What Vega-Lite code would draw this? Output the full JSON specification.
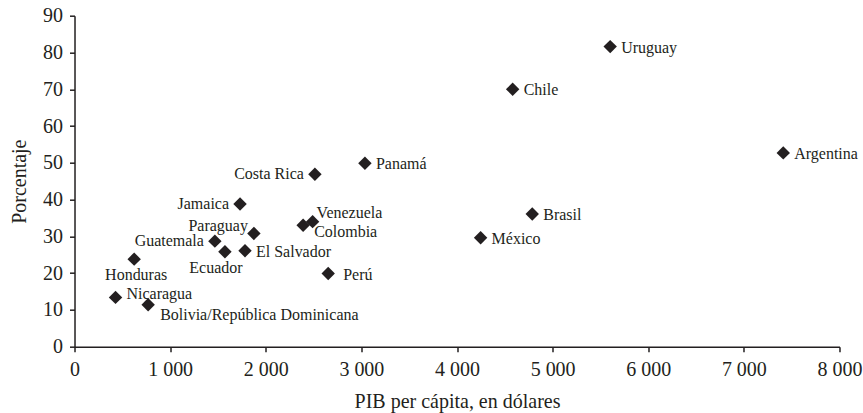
{
  "$schema": "https://vega.github.io/schema/vega-lite/v6.json",
  "width": 765,
  "height": 331,
  "autosize": "none",
  "padding": {"left": 74.5, "top": 15.7, "right": 23, "bottom": 66},
  "background": "white",
  "config": {
    "view": {"stroke": null},
    "font": "Liberation Serif",
    "text": {"font": "Liberation Serif", "fontSize": 16, "color": "#231f20", "baseline": "middle"}
  },
  "data": {
    "values": [
      {"pais": "Uruguay", "pib": 5602, "pct": 81.6},
      {"pais": "Chile", "pib": 4582, "pct": 70},
      {"pais": "Argentina", "pib": 7412, "pct": 52.7},
      {"pais": "Panamá", "pib": 3037, "pct": 49.9},
      {"pais": "Costa Rica", "pib": 2514, "pct": 46.9},
      {"pais": "Jamaica", "pib": 1731, "pct": 38.8},
      {"pais": "Brasil", "pib": 4787, "pct": 36.1},
      {"pais": "Venezuela", "pib": 2490, "pct": 34.0},
      {"pais": "Colombia", "pib": 2391, "pct": 33.0},
      {"pais": "Paraguay", "pib": 1876, "pct": 30.8},
      {"pais": "México", "pib": 4247, "pct": 29.6},
      {"pais": "Guatemala", "pib": 1468, "pct": 28.7},
      {"pais": "El Salvador", "pib": 1783, "pct": 26.1},
      {"pais": "Ecuador", "pib": 1573, "pct": 25.8},
      {"pais": "Honduras", "pib": 624, "pct": 23.8},
      {"pais": "Perú", "pib": 2653, "pct": 19.9},
      {"pais": "Nicaragua", "pib": 429, "pct": 13.4},
      {"pais": "Bolivia/República Dominicana", "pib": 770, "pct": 11.4}
    ]
  },
  "encoding": {
    "x": {
      "field": "pib", "type": "quantitative",
      "scale": {"domain": [0, 8000], "nice": false, "zero": true},
      "axis": {
        "title": "PIB per cápita, en dólares",
        "values": [0, 1000, 2000, 3000, 4000, 5000, 6000, 7000, 8000],
        "labelExpr": "replace(format(datum.value, ','), ',', ' ')",
        "grid": false, "domainColor": "#231f20", "domainWidth": 1.5,
        "tickColor": "#231f20", "tickWidth": 1.5, "tickSize": 5,
        "labelFont": "Liberation Serif", "labelFontSize": 20, "labelColor": "#231f20",
        "labelPadding": 8, "labelFlush": false,
        "titleFont": "Liberation Serif", "titleFontSize": 20, "titleFontWeight": "normal", "titleColor": "#231f20",
        "titlePadding": 12
      }
    },
    "y": {
      "field": "pct", "type": "quantitative",
      "scale": {"domain": [0, 90], "nice": false},
      "axis": {
        "title": "Porcentaje",
        "values": [0, 10, 20, 30, 40, 50, 60, 70, 80, 90],
        "grid": false, "domainColor": "#231f20", "domainWidth": 1.5,
        "tickColor": "#231f20", "tickWidth": 1.5, "tickSize": 5,
        "labelFont": "Liberation Serif", "labelFontSize": 20, "labelColor": "#231f20",
        "labelPadding": 7, "labelFlush": false,
        "titleFont": "Liberation Serif", "titleFontSize": 20, "titleFontWeight": "normal", "titleColor": "#231f20",
        "titlePadding": 13
      }
    }
  },
  "layer": [
    {"mark": {"type": "point", "shape": "diamond", "filled": true, "size": 180, "color": "#231f20", "opacity": 1}},
    {"transform": [{"filter": {"field": "pais", "oneOf": ["Uruguay", "Chile", "Argentina", "Panamá", "El Salvador", "Brasil", "México"]}}],
     "mark": {"type": "text", "align": "left", "dx": 11, "dy": 1}, "encoding": {"text": {"field": "pais"}}},
    {"transform": [{"filter": {"field": "pais", "equal": "Perú"}}],
     "mark": {"type": "text", "align": "left", "dx": 15, "dy": 1}, "encoding": {"text": {"field": "pais"}}},
    {"transform": [{"filter": {"field": "pais", "equal": "Nicaragua"}}],
     "mark": {"type": "text", "align": "left", "dx": 11, "dy": -3}, "encoding": {"text": {"field": "pais"}}},
    {"transform": [{"filter": {"field": "pais", "equal": "Venezuela"}}],
     "mark": {"type": "text", "align": "left", "dx": 4, "dy": -9}, "encoding": {"text": {"field": "pais"}}},
    {"transform": [{"filter": {"field": "pais", "equal": "Colombia"}}],
     "mark": {"type": "text", "align": "left", "dx": 11, "dy": 7}, "encoding": {"text": {"field": "pais"}}},
    {"transform": [{"filter": {"field": "pais", "oneOf": ["Costa Rica", "Jamaica", "Guatemala"]}}],
     "mark": {"type": "text", "align": "right", "dx": -11, "dy": 0}, "encoding": {"text": {"field": "pais"}}},
    {"transform": [{"filter": {"field": "pais", "equal": "Paraguay"}}],
     "mark": {"type": "text", "align": "right", "dx": -6, "dy": -7}, "encoding": {"text": {"field": "pais"}}},
    {"transform": [{"filter": {"field": "pais", "equal": "Honduras"}}],
     "mark": {"type": "text", "align": "center", "dx": 2, "dy": 16}, "encoding": {"text": {"field": "pais"}}},
    {"transform": [{"filter": {"field": "pais", "equal": "Ecuador"}}],
     "mark": {"type": "text", "align": "center", "dx": -9, "dy": 16}, "encoding": {"text": {"field": "pais"}}},
    {"transform": [{"filter": {"field": "pais", "equal": "Bolivia/República Dominicana"}}],
     "mark": {"type": "text", "align": "left", "dx": 12, "dy": 10}, "encoding": {"text": {"field": "pais"}}}
  ]
}
